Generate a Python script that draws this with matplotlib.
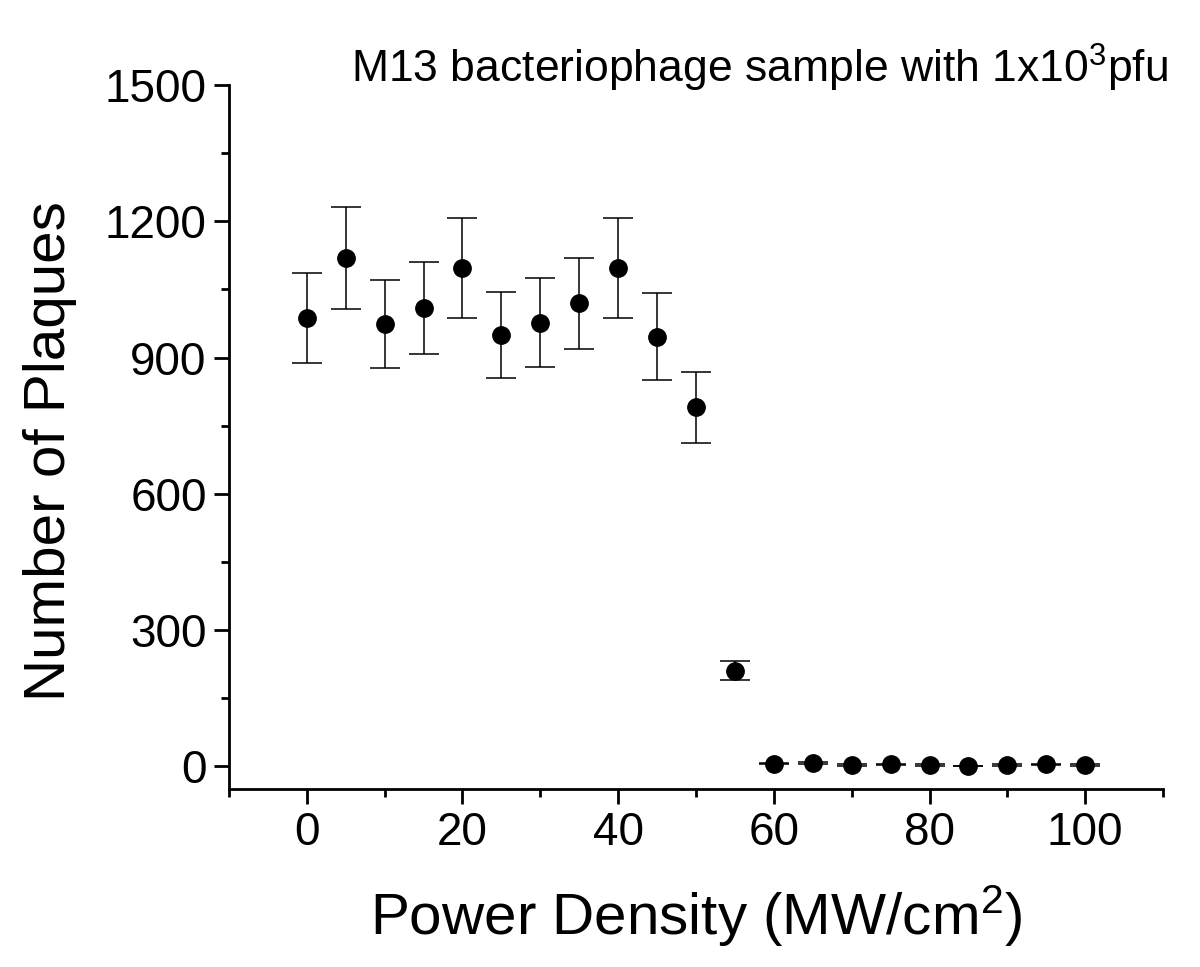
import numpy as np
import matplotlib
matplotlib.use("Agg")
import matplotlib.pyplot as plt
from matplotlib.ticker import MultipleLocator

plt.rcParams['font.family'] = ['Liberation Sans', 'DejaVu Sans']
plt.rcParams['mathtext.fontset'] = 'custom'
plt.rcParams['mathtext.rm'] = 'Liberation Sans'
plt.rcParams['mathtext.it'] = 'Liberation Sans:italic'

# ── data ──
power = [0, 5, 10, 15, 20, 25, 30, 35, 40, 45, 50, 55, 60, 65, 70, 75, 80, 85, 90, 95, 100]
plaques = [988, 1119, 974, 1009, 1098, 949, 977, 1019, 1098, 946, 790, 210,
           6, 8, 2, 4, 2, 0, 2, 4, 2]
err = [99, 112, 97, 101, 110, 95, 97, 101, 110, 95, 78, 21,
       2, 2, 2, 2, 2, 0, 2, 2, 2]

fig = plt.figure(figsize=(12, 9.67), dpi=100)
ax = fig.add_axes([0.1908, 0.1841, 0.7784, 0.7280])

ax.errorbar(power, plaques, yerr=err, fmt='o', color='black',
            ms=12.5, ecolor='black', elinewidth=1.1, capsize=10.5,
            capthick=1.1)

ax.set_xlim(-10, 110)
ax.set_ylim(-50, 1500)
ax.xaxis.set_major_locator(MultipleLocator(20))
ax.xaxis.set_minor_locator(MultipleLocator(10))
ax.yaxis.set_major_locator(MultipleLocator(300))
ax.yaxis.set_minor_locator(MultipleLocator(150))

for s in ['top', 'right']:
    ax.spines[s].set_visible(False)
for s in ['left', 'bottom']:
    ax.spines[s].set_linewidth(2)

ax.tick_params(which='major', direction='out', length=11, width=2,
               labelsize=33, pad=5)
ax.tick_params(which='minor', direction='out', length=6, width=2)

ax.set_xlabel(r'Power Density (MW/cm$^{\mathrm{2}}$)', fontsize=42, labelpad=20)
ax.set_ylabel('Number of Plaques', fontsize=42)
ax.yaxis.set_label_coords(-0.163, 0.48)

fig.text(0.973, 0.914, r'M13 bacteriophage sample with 1x10$^{\mathrm{3}}$pfu',
         ha='right', va='baseline', fontsize=32)

plt.savefig('out.png', dpi=100)
